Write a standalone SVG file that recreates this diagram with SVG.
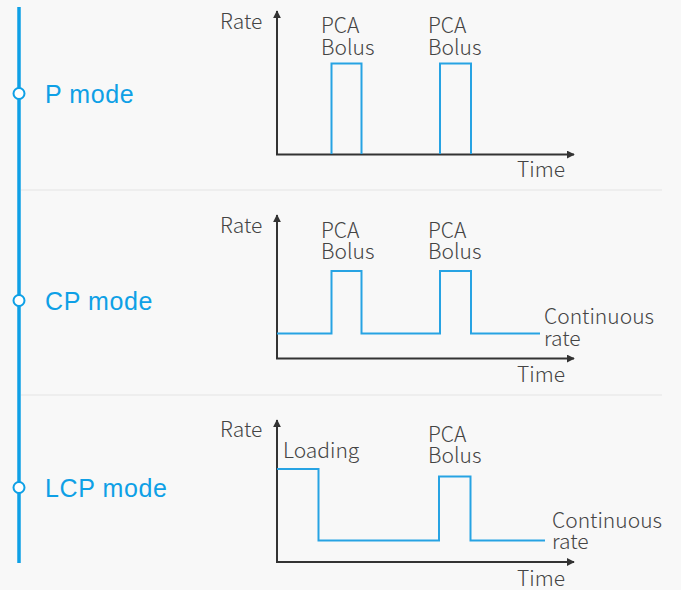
<svg xmlns="http://www.w3.org/2000/svg" width="681" height="590" viewBox="0 0 681 590">
<defs>
<style>
.mode{font-family:"Liberation Sans",Arial,sans-serif;font-size:25px;fill:#0ea0e6;letter-spacing:0.6px}
.lbl{font-family:"Noto Sans CJK SC","Noto Sans",sans-serif;font-size:21px;font-weight:300;fill:#444}
.axis{stroke:#333;stroke-width:2;fill:none}
.sig{stroke:#27a3e3;stroke-width:2;fill:none}
.sep{stroke:#ebebeb;stroke-width:1.5}
</style>
<marker id="ah" viewBox="0 0 10 10" refX="9" refY="5" markerWidth="8" markerHeight="8" markerUnits="userSpaceOnUse" orient="auto"><path d="M0,0 L10,5 L0,10 z" fill="#333"/></marker>
</defs>
<rect width="681" height="590" fill="#f8f8f8"/>
<g id="timeline">
<line x1="19" y1="7" x2="19" y2="563" stroke="#0ea0e6" stroke-width="3.5"/>
<line class="sep" x1="21" y1="190" x2="662" y2="190"/>
<line class="sep" x1="21" y1="395" x2="662" y2="395"/>
</g>
<g id="p-mode">
<circle cx="19" cy="93.5" r="5.5" fill="#fff" stroke="#0ea0e6" stroke-width="2"/>
<text class="mode" x="45" y="102.5">P mode</text>
<line class="axis" x1="277" y1="155" x2="277" y2="11" marker-end="url(#ah)"/>
<line class="axis" x1="276" y1="154.5" x2="574" y2="154.5" marker-end="url(#ah)"/>
<polyline class="sig" points="331.5,154 331.5,63.5 361.5,63.5 361.5,154"/>
<polyline class="sig" points="440,154 440,63.5 471,63.5 471,154"/>
<text class="lbl" x="220" y="29">Rate</text>
<text class="lbl" x="321" y="33">PCA</text>
<text class="lbl" x="321" y="54.5">Bolus</text>
<text class="lbl" x="428" y="33">PCA</text>
<text class="lbl" x="428" y="54.5">Bolus</text>
<text class="lbl" x="517" y="177">Time</text>
</g>
<g id="cp-mode">
<circle cx="19" cy="300.5" r="5.5" fill="#fff" stroke="#0ea0e6" stroke-width="2"/>
<text class="mode" x="45" y="309.5">CP mode</text>
<line class="axis" x1="277" y1="359" x2="277" y2="215" marker-end="url(#ah)"/>
<line class="axis" x1="276" y1="358.5" x2="574" y2="358.5" marker-end="url(#ah)"/>
<polyline class="sig" points="277,333.5 331.5,333.5 331.5,271 361.5,271 361.5,333.5 440,333.5 440,271 471,271 471,333.5 540,333.5"/>
<text class="lbl" x="220" y="233">Rate</text>
<text class="lbl" x="321" y="237.5">PCA</text>
<text class="lbl" x="321" y="259">Bolus</text>
<text class="lbl" x="428" y="237.5">PCA</text>
<text class="lbl" x="428" y="259">Bolus</text>
<text class="lbl" x="544" y="324">Continuous</text>
<text class="lbl" x="544" y="346">rate</text>
<text class="lbl" x="517" y="382">Time</text>
</g>
<g id="lcp-mode">
<circle cx="19" cy="487.5" r="5.5" fill="#fff" stroke="#0ea0e6" stroke-width="2"/>
<text class="mode" x="45" y="496.5">LCP mode</text>
<line class="axis" x1="277" y1="563" x2="277" y2="420" marker-end="url(#ah)"/>
<line class="axis" x1="276" y1="562" x2="574" y2="562" marker-end="url(#ah)"/>
<polyline class="sig" points="277,469 318.5,469 318.5,540.5 439,540.5 439,476.5 470.5,476.5 470.5,540.5 545,540.5"/>
<text class="lbl" x="220" y="437">Rate</text>
<text class="lbl" x="283" y="458">Loading</text>
<text class="lbl" x="428" y="442">PCA</text>
<text class="lbl" x="428" y="463">Bolus</text>
<text class="lbl" x="552" y="528">Continuous</text>
<text class="lbl" x="552" y="549">rate</text>
<text class="lbl" x="517" y="586">Time</text>
</g>
</svg>
